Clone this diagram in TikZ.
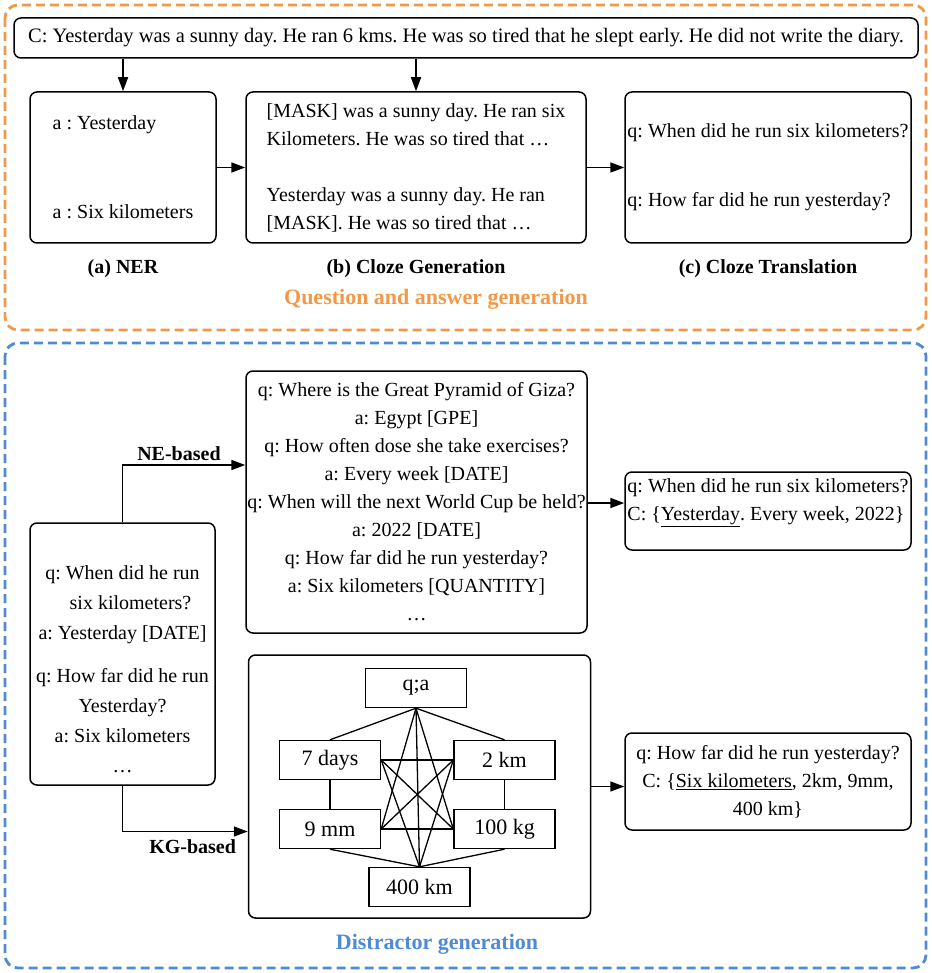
\documentclass[tikz,border=0pt]{standalone}
\usepackage{fontspec}
\setmainfont{Liberation Serif}
\usetikzlibrary{arrows.meta}
\frenchspacing

\definecolor{qaorange}{RGB}{242,152,72}
\definecolor{dgblue}{RGB}{78,138,214}

\tikzset{
  box/.style={draw, line width=1.5pt, rounded corners=7pt, inner sep=0pt},
  gnode/.style={draw, line width=1.4pt, minimum width=101pt, minimum height=39pt, inner sep=0pt,
    font=\fontsize{22}{26}\selectfont},
  edge/.style={line width=1.3pt},
  link/.style={->, line width=1.6pt},
  frame/.style={line width=2.8pt, dash pattern=on 9pt off 5pt, rounded corners=13pt},
  caption/.style={font=\bfseries\fontsize{20}{24}\selectfont},
  title/.style={font=\bfseries\fontsize{22}{26}\selectfont},
}

\begin{document}
\begin{tikzpicture}[x=1pt, y=-1pt, >={Stealth[length=14pt,width=10pt,inset=0pt]},
  font=\fontsize{20}{28}\selectfont]
  \useasboundingbox (0,0) rectangle (931,973);

  % upper part: question and answer generation
  \draw[frame, qaorange] (5,5) rectangle (926,330);
  \node[box, minimum width=904pt, minimum height=40pt, font=\fontsize{20.5}{28}\selectfont] (ctx) at (466,38)
    {C: Yesterday was a sunny day. He ran 6 kms. He was so tired that he slept early. He did not write the diary.};
  \node[box, minimum width=186pt, minimum height=151pt, align=left] (ner) at (123,167.5)
    {a : Yesterday\\[61pt]a : Six kilometers};
  \node[box, minimum width=340pt, minimum height=151pt, align=left] (cloze) at (416,167.5)
    {[MASK] was a sunny day. He ran six\\Kilometers. He was so tired that …\\[28pt]Yesterday was a sunny day. He ran\\{}[MASK]. He was so tired that …};
  \node[box, minimum width=286pt, minimum height=151pt, align=left] (trans) at (768,167.5)
    {q: When did he run six kilometers?\\[41pt]q: How far did he run yesterday?};

  \draw[link] (ctx.south -| ner.north) -- (ner.north);
  \draw[link] (ctx.south -| cloze.north) -- (cloze.north);
  \draw[link] (ner.east) -- (cloze.west);
  \draw[link] (cloze.east) -- (trans.west);

  \node[caption] (nerlab) at (123,269) {(a) NER};
  \node[caption] (clozelab) at (416,269) {(b) Cloze Generation};
  \node[caption] (translab) at (768,269) {(c) Cloze Translation};
  \node[title, qaorange] (qatitle) at (436,299) {Question and answer generation};

  % lower part: distractor generation
  \draw[frame, dgblue] (5,343) rectangle (926,968);
  \node[box, minimum width=185pt, minimum height=262pt] (qabox) at (122.5,654) {};
  \node[align=center, font=\fontsize{20}{30}\selectfont] (qatext) at ([yshift=-15pt]qabox.center)
    {q: When did he run\\\hspace*{16pt}six kilometers?\\a: Yesterday [DATE]\\[13pt]q: How far did he run\\Yesterday?\\a: Six kilometers\\…};

  \node[box, minimum width=341pt, minimum height=262pt, align=center] (ne) at (416.5,502)
    {q: Where is the Great Pyramid of Giza?\\a: Egypt [GPE]\\q: How often dose she take exercises?\\a: Every week [DATE]\\q: When will the next World Cup be held?\\a: 2022 [DATE]\\q: How far did he run yesterday?\\a: Six kilometers [QUANTITY]\\…};

  \node[box, minimum width=342pt, minimum height=263pt] (kg) at (419.5,786.5) {};
  \node[gnode] (gq) at (416,688) {q;a};
  \node[gnode] (g7) at (330,760) {7 days};
  \node[gnode] (g2) at (504.5,760) {2 km};
  \node[gnode] (g9) at (330,829) {9 mm};
  \node[gnode] (g100) at (504.5,829) {100 kg};
  \node[gnode] (g400) at (419.5,887) {400 km};
  \foreach \a/\b in {gq.south/g7.north, gq.south/g2.north, gq.south/g9.east, gq.south/g100.west,
      gq.south/g400.north, g7.east/g2.west, g7.east/g100.west, g7.east/g400.north, g7.south/g9.north,
      g2.west/g9.east, g2.west/g400.north, g2.south/g100.north, g9.east/g100.west,
      g9.south/g400.north, g100.south/g400.north}
    \draw[edge] (\a) -- (\b);

  \node[box, minimum width=286pt, minimum height=78pt] (res1) at (768,511) {};
  \node[align=left] (res1text) at ([yshift=8pt]res1.center)
    {q: When did he run six kilometers?\\C: \{\underline{Yesterday}. Every week, 2022\}};
  \node[box, minimum width=286pt, minimum height=97pt, align=center] (res2) at (768,781.5)
    {q: How far did he run yesterday?\\C: \{\underline{Six kilometers}, 2km, 9mm,\\400 km\}};

  \coordinate (r1in) at ([yshift=8pt]res1.west);
  \draw[link] (qabox.north) |- ([yshift=37pt]ne.west) node[caption, pos=0.73, above] (nelab) {NE-based};
  \draw[link] (qabox.south) |- ([yshift=-45pt]kg.west) node[caption, pos=0.78, below=4pt] (kglab) {KG-based};
  \draw[link] (ne.east |- r1in) -- (r1in);
  \draw[link] (kg.east) -- (kg.east -| res2.west);

  \node[title, dgblue] (dgtitle) at (437,944) {Distractor generation};
\end{tikzpicture}
\end{document}
